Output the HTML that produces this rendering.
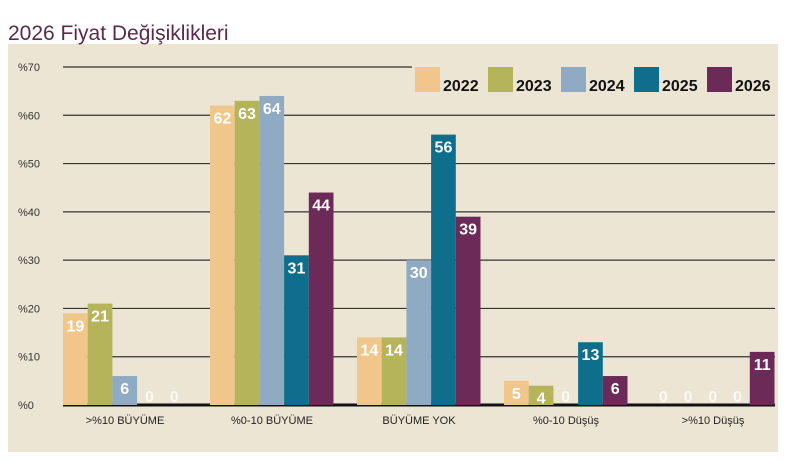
<!DOCTYPE html>
<html><head><meta charset="utf-8"><style>
body{margin:0;background:#fff;width:800px;height:463px;overflow:hidden;font-family:"Liberation Sans",sans-serif}
</style></head><body>
<svg width="800" height="463">
<rect x="8" y="44" width="770" height="408" fill="#ece5d3"/>
<text x="8" y="40" font-size="21" fill="#5a2a4a">2026 Fiyat Değişiklikleri</text>
<g id="grid"></g><g id="bars"></g><g id="legend"></g>
</svg>
<script>
const categories=[">%10 BÜYÜME","%0-10 BÜYÜME","BÜYÜME YOK","%0-10 Düşüş",">%10 Düşüş"];
const years=["2022","2023","2024","2025","2026"];
const s2022=[19,62,14,5,0];
const s2023=[21,63,14,4,0];
const s2024=[6,64,30,0,0];
const s2025=[0,31,56,13,0];
const s2026=[0,44,39,6,11];
const series=[s2022,s2023,s2024,s2025,s2026];
const colors=["#f0c68a","#b5b45a","#8fabc4","#0f6e8c","#6b2a57"];
const yTicks=[0,10,20,30,40,50,60,70];
const NS="http://www.w3.org/2000/svg";
const y=v=>405-v*(338/70);
const gx=i=>63+i*147;
const bw=24.7;
function mk(t,a,p){const e=document.createElementNS(NS,t);for(const k in a)e.setAttribute(k,a[k]);p.appendChild(e);return e;}
const grid=document.getElementById('grid');
yTicks.forEach(t=>{
 const l=mk('line',{x1:63,x2:775,y1:y(t),y2:y(t),stroke:t===0?'#111':'#333','stroke-width':t===0?3:1.2},grid);
 
 
 const tx=mk('text',{x:18,y:y(t)+4,'font-size':11,fill:'#333'},grid);tx.textContent='%'+t;
 
 
});
const bars=document.getElementById('bars');
categories.forEach((c,i)=>{
 series.forEach((s,j)=>{
  const v=s[i];const x=gx(i)+j*bw;
  if(v>0){const r=mk('rect',{x:x,y:y(v),width:bw,height:y(0)-y(v),fill:colors[j]},bars);
   
   }
  const t=mk('text',{x:x+bw/2,y:(v>0?y(v)+18:y(0)-3),'font-size':16,'font-weight':'bold','text-anchor':'middle',fill:v>0?'#fff':'rgba(255,255,255,0.75)'},bars);
  t.textContent=v;
  
  
 });
 const cl=mk('text',{x:gx(i)+62,y:424,'font-size':11,fill:'#222','text-anchor':'middle'},bars);
 cl.textContent=c;
 
 
});
const lg=document.getElementById('legend');
const lb=mk('rect',{x:412,y:66,width:366,height:27,fill:'#ece5d3'},lg);


years.forEach((yr,j)=>{
 const x=415+j*73;
 const r=mk('rect',{x:x,y:67,width:25,height:25,fill:colors[j]},lg);
 
 
 const t=mk('text',{x:x+28,y:91,'font-size':16,'font-weight':'bold',fill:'#111'},lg);
 t.textContent=yr;
 
 
});
</script>
</body></html>
